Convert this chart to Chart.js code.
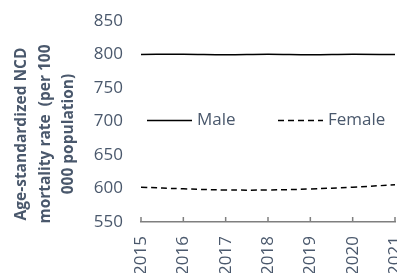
<!DOCTYPE html>
<html>
<head>
<meta charset="utf-8">
<script src="https://cdn.jsdelivr.net/npm/chart.js@4/dist/chart.umd.min.js"></script>
<style>
html,body{margin:0;padding:0;background:#fff;}
#wrap{width:397px;height:273px;position:relative;}
</style>
</head>
<body>
<div id="wrap"><canvas id="c" width="397" height="273"></canvas></div>
<script>
const categories = ['2015','2016','2017','2018','2019','2020','2021'];
const maleValues = [800, 800.4, 799.7, 800.4, 799.7, 800.4, 799.9];
const femaleValues = [602, 599.5, 597.8, 597.8, 599.3, 602, 605.5];
const yTicks = [550, 600, 650, 700, 750, 800, 850];
const yTitleLines = ['Age-standardized NCD', 'mortality rate  (per 100', '000 population)'];
const seriesNames = ['Male', 'Female'];

const textColor = '#4A586C';
const axisColor = '#7F7F7F';
const fontFamily = "'Open Sans', 'DejaVu Sans', sans-serif";

const customPlugin = {
  id: 'custom',
  afterDraw(chart) {
    const ctx = chart.ctx;
    const xs = chart.scales.x, ys = chart.scales.y;
    const area = chart.chartArea;
    ctx.save();
    // inward tick marks
    ctx.strokeStyle = axisColor;
    ctx.lineWidth = 1.5;
    xs.ticks.forEach((t, i) => {
      const x = xs.getPixelForTick(i);
      ctx.beginPath();
      ctx.moveTo(x, area.bottom);
      ctx.lineTo(x, area.bottom - 5);
      ctx.stroke();
    });
    // legend
    const ly = ys.getPixelForValue(700) - 1;
    ctx.font = '17px ' + fontFamily;
    ctx.textBaseline = 'middle';
    ctx.textAlign = 'left';
    const items = [
      {x: area.left + 6, dash: []},
      {x: area.left + 137, dash: [6, 4]}
    ];
    items.forEach((it, i) => {
      ctx.strokeStyle = '#000';
      ctx.lineWidth = 1.5;
      ctx.setLineDash(it.dash);
      ctx.beginPath();
      ctx.moveTo(it.x, ly);
      ctx.lineTo(it.x + 45, ly);
      ctx.stroke();
      ctx.setLineDash([]);
      ctx.fillStyle = textColor;
      ctx.fillText(seriesNames[i], it.x + 50, ly);
    });
    // y-axis title
    ctx.font = 'bold 15.5px ' + fontFamily;
    ctx.fillStyle = textColor;
    ctx.textAlign = 'center';
    const xsPos = [22, 46, 69];
    const cy = 134;
    yTitleLines.forEach((line, i) => {
      ctx.save();
      ctx.translate(xsPos[i], cy);
      ctx.rotate(-Math.PI / 2);
      ctx.fillText(line, 0, 0);
      ctx.restore();
    });
    ctx.restore();
  }
};

new Chart(document.getElementById('c'), {
  type: 'line',
  data: {
    labels: categories,
    datasets: [
      {label: seriesNames[0], data: maleValues, borderColor: '#000', borderWidth: 1.5, pointRadius: 0, tension: 0.4, fill: false},
      {label: seriesNames[1], data: femaleValues, borderColor: '#000', borderWidth: 1.5, borderDash: [6, 4], pointRadius: 0, tension: 0.4, fill: false}
    ]
  },
  options: {
    responsive: false,
    animation: false,
    devicePixelRatio: 1,
    layout: {padding: {top: 21, right: 2, left: 0, bottom: 0}},
    plugins: {legend: {display: false}, tooltip: {enabled: false}, title: {display: false}},
    scales: {
      x: {
        type: 'category',
        offset: false,
        grid: {display: false, drawTicks: false},
        border: {display: true, color: axisColor, width: 1.5},
        ticks: {color: textColor, font: {family: fontFamily, size: 17}, minRotation: 90, maxRotation: 90, padding: 14, autoSkip: false},
        afterFit(scale) { scale.paddingLeft = 0; scale.paddingRight = 0; scale.height = 51; }
      },
      y: {
        min: 550, max: 850,
        afterBuildTicks(scale) { scale.ticks = yTicks.map(v => ({value: v})); },
        grid: {display: false, drawTicks: false},
        border: {display: false},
        ticks: {color: textColor, font: {family: fontFamily, size: 17}, padding: 18},
        afterFit(scale) { scale.paddingTop = 0; scale.paddingBottom = 0; scale.width = 141; }
      }
    }
  },
  plugins: [customPlugin]
});
</script>
</body>
</html>
